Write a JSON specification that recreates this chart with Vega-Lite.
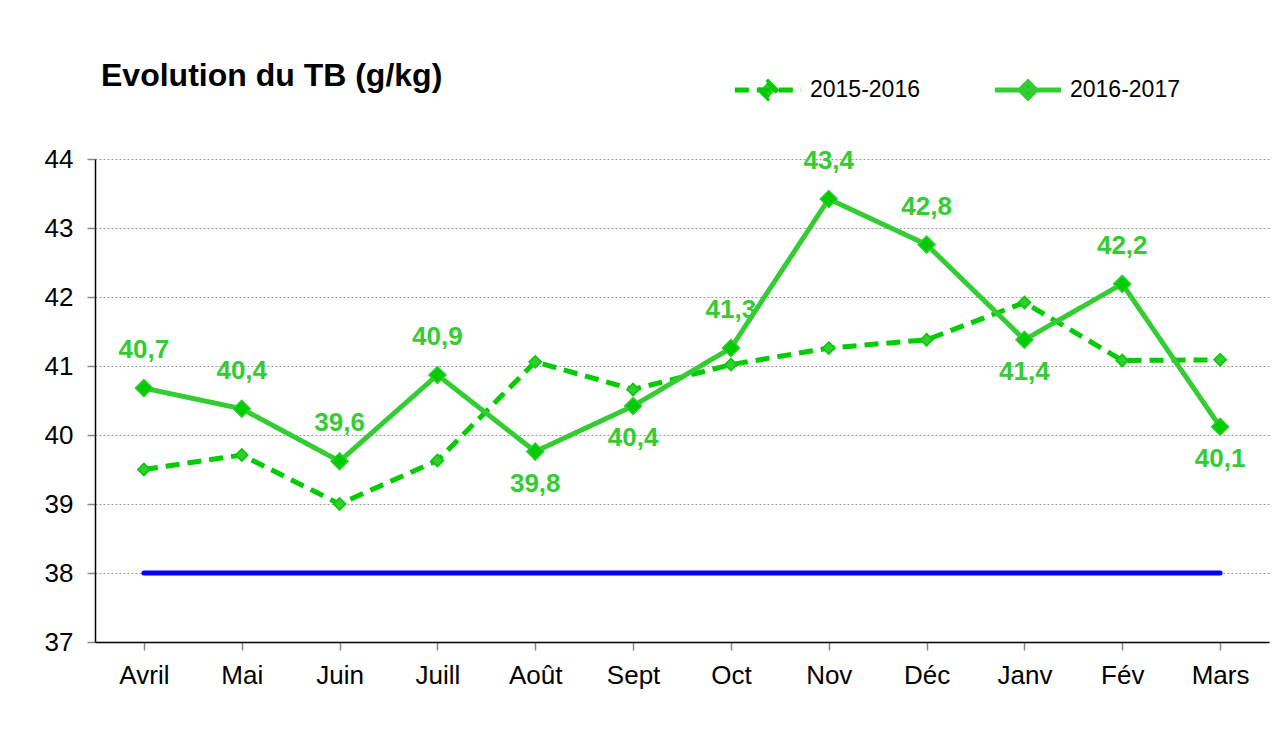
{
  "$schema": "https://vega.github.io/schema/vega-lite/v6.json",
  "autosize": "none",
  "width": 1174,
  "height": 483,
  "padding": {"left": 95, "top": 159, "right": 15, "bottom": 91},
  "background": "white",
  "config": {
    "font": "Liberation Sans",
    "view": {"stroke": null},
    "locale": {"number": {"decimal": ",", "thousands": " ", "grouping": [3], "currency": ["", " €"]}}
  },
  "title": {
    "text": "Evolution du TB (g/kg)",
    "anchor": "start",
    "frame": "group",
    "dx": 6,
    "offset": -39,
    "fontSize": 32,
    "fontWeight": "bold",
    "color": "black",
    "font": "Liberation Sans"
  },
  "datasets": {
    "tb": [
      {"mois": "Avril", "serie": "2015-2016", "tb": 39.5},
      {"mois": "Mai", "serie": "2015-2016", "tb": 39.71},
      {"mois": "Juin", "serie": "2015-2016", "tb": 39.0},
      {"mois": "Juill", "serie": "2015-2016", "tb": 39.63},
      {"mois": "Août", "serie": "2015-2016", "tb": 41.06},
      {"mois": "Sept", "serie": "2015-2016", "tb": 40.66},
      {"mois": "Oct", "serie": "2015-2016", "tb": 41.02},
      {"mois": "Nov", "serie": "2015-2016", "tb": 41.26},
      {"mois": "Déc", "serie": "2015-2016", "tb": 41.38},
      {"mois": "Janv", "serie": "2015-2016", "tb": 41.92},
      {"mois": "Fév", "serie": "2015-2016", "tb": 41.08},
      {"mois": "Mars", "serie": "2015-2016", "tb": 41.09},
      {"mois": "Avril", "serie": "2016-2017", "tb": 40.68},
      {"mois": "Mai", "serie": "2016-2017", "tb": 40.38},
      {"mois": "Juin", "serie": "2016-2017", "tb": 39.62},
      {"mois": "Juill", "serie": "2016-2017", "tb": 40.87},
      {"mois": "Août", "serie": "2016-2017", "tb": 39.76},
      {"mois": "Sept", "serie": "2016-2017", "tb": 40.42},
      {"mois": "Oct", "serie": "2016-2017", "tb": 41.26},
      {"mois": "Nov", "serie": "2016-2017", "tb": 43.42},
      {"mois": "Déc", "serie": "2016-2017", "tb": 42.76},
      {"mois": "Janv", "serie": "2016-2017", "tb": 41.38},
      {"mois": "Fév", "serie": "2016-2017", "tb": 42.19},
      {"mois": "Mars", "serie": "2016-2017", "tb": 40.12}
    ],
    "seuil": [
      {"mois": "Avril", "valeur": 38},
      {"mois": "Mai", "valeur": 38},
      {"mois": "Juin", "valeur": 38},
      {"mois": "Juill", "valeur": 38},
      {"mois": "Août", "valeur": 38},
      {"mois": "Sept", "valeur": 38},
      {"mois": "Oct", "valeur": 38},
      {"mois": "Nov", "valeur": 38},
      {"mois": "Déc", "valeur": 38},
      {"mois": "Janv", "valeur": 38},
      {"mois": "Fév", "valeur": 38},
      {"mois": "Mars", "valeur": 38}
    ]
  },
  "encoding": {
    "x": {
      "field": "mois",
      "type": "nominal",
      "sort": ["Avril", "Mai", "Juin", "Juill", "Août", "Sept", "Oct", "Nov", "Déc", "Janv", "Fév", "Mars"],
      "scale": {"paddingInner": 0, "paddingOuter": 0},
      "axis": {
        "title": null,
        "labelAngle": 0,
        "labelFontSize": 26,
        "labelColor": "black",
        "labelPadding": 12,
        "tickSize": 8,
        "tickColor": "#888888",
        "tickWidth": 1.5,
        "bandPosition": 0,
        "domainColor": "black",
        "domainWidth": 1.5,
        "grid": false
      }
    }
  },
  "layer": [
    {
      "data": {"name": "seuil"},
      "mark": {"type": "line", "color": "#0000FF", "strokeWidth": 5, "strokeCap": "round"},
      "encoding": {
        "y": {
          "field": "valeur",
          "type": "quantitative",
          "scale": {"domain": [37, 44], "nice": false, "zero": false},
          "axis": {
            "title": null,
            "values": [37, 38, 39, 40, 41, 42, 43, 44],
            "format": "d",
            "labelOverlap": false,
            "labelFontSize": 26,
            "labelColor": "black",
            "labelPadding": 14,
            "tickSize": 8,
            "tickColor": "#888888",
            "tickWidth": 1.5,
            "domainColor": "black",
            "domainWidth": 1.5,
            "grid": true,
            "gridColor": "#999999",
            "gridDash": [2, 2],
            "gridWidth": 1
          }
        }
      }
    },
    {
      "data": {"name": "tb"},
      "mark": {"type": "line", "strokeWidth": 5},
      "encoding": {
        "y": {"field": "tb", "type": "quantitative"},
        "color": {
          "field": "serie",
          "type": "nominal",
          "scale": {"domain": ["2015-2016", "2016-2017"], "range": ["#00CC00", "#33CC33"]},
          "legend": {
            "title": null,
            "orient": "none",
            "legendX": 637,
            "legendY": -105,
            "direction": "horizontal",
            "columns": 2,
            "columnPadding": 64,
            "labelFontSize": 23,
            "labelColor": "black",
            "labelOffset": 6,
            "symbolType": "M-1,0H1M0,-0.24L0.24,0L0,0.24L-0.24,0Z",
            "symbolSize": 4400,
            "symbolStrokeWidth": 5,
            "symbolOpacity": 1,
            "encode": {
              "symbols": {
                "update": {
                  "fill": {"signal": "datum.value === '2015-2016' ? '#33CC33' : '#00CC00'"},
                  "fillOpacity": {"value": 1},
                  "strokeDash": {"signal": "datum.value === '2015-2016' ? [14, 8] : [1, 0]"}
                }
              }
            }
          }
        },
        "strokeDash": {
          "field": "serie",
          "type": "nominal",
          "scale": {"domain": ["2015-2016", "2016-2017"], "range": [[14, 8], [1, 0]]},
          "legend": null
        }
      }
    },
    {
      "data": {"name": "tb"},
      "transform": [{"filter": "datum.serie === '2015-2016'"}],
      "mark": {"type": "point", "shape": "diamond", "size": 150, "filled": true, "fill": "#33CC33", "stroke": "#00CC00", "strokeWidth": 1.5, "opacity": 1},
      "encoding": {"y": {"field": "tb", "type": "quantitative"}}
    },
    {
      "data": {"name": "tb"},
      "transform": [{"filter": "datum.serie === '2016-2017'"}],
      "mark": {"type": "point", "shape": "diamond", "size": 290, "filled": true, "fill": "#00CC00", "stroke": "#33CC33", "strokeWidth": 1.5, "opacity": 1},
      "encoding": {"y": {"field": "tb", "type": "quantitative"}}
    },
    {
      "data": {"name": "tb"},
      "transform": [
        {"filter": "datum.serie === '2016-2017'"},
        {"filter": {"field": "mois", "oneOf": ["Avril", "Mai", "Juin", "Juill", "Oct", "Nov", "Déc", "Fév"]}}
      ],
      "mark": {"type": "text", "fontSize": 26, "fontWeight": "bold", "color": "#33CC33", "dy": -38, "baseline": "middle"},
      "encoding": {
        "y": {"field": "tb", "type": "quantitative"},
        "text": {"field": "tb", "type": "quantitative", "format": ".1f"}
      }
    },
    {
      "data": {"name": "tb"},
      "transform": [
        {"filter": "datum.serie === '2016-2017'"},
        {"filter": {"field": "mois", "oneOf": ["Août", "Sept", "Janv", "Mars"]}}
      ],
      "mark": {"type": "text", "fontSize": 26, "fontWeight": "bold", "color": "#33CC33", "dy": 32, "baseline": "middle"},
      "encoding": {
        "y": {"field": "tb", "type": "quantitative"},
        "text": {"field": "tb", "type": "quantitative", "format": ".1f"}
      }
    }
  ]
}
